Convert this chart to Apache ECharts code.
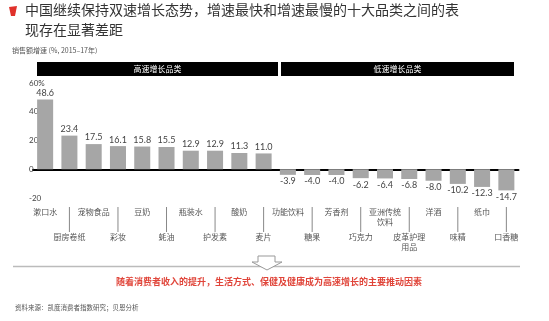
<!DOCTYPE html>
<html><head><meta charset="utf-8">
<script src="https://cdn.jsdelivr.net/npm/echarts@6/dist/echarts.min.js"></script>
<style>html,body{margin:0;padding:0;background:#fff}#c{width:549px;height:321px}</style>
</head><body><div id="c"></div>
<script>
var categories = ['漱口水','厨房卷纸','宠物食品','彩妆','豆奶','蚝油','瓶装水','护发素','酸奶','麦片',
  '功能饮料','糖果','芳香剂','巧克力','亚洲传统\n饮料','皮革护理\n用品','洋酒','味精','纸巾','口香糖'];
var growth = [48.6,23.4,17.5,16.1,15.8,15.5,12.9,12.9,11.3,11.0,
  -3.9,-4.0,-4.0,-6.2,-6.4,-6.8,-8.0,-10.2,-12.3,-14.7];
var yTicks = {min:-20, max:60, interval:20};
var groupTitles = ['高速增长品类','低速增长品类'];
var titleText = ['中国继续保持双速增长态势，增速最快和增速最慢的十大品类之间的表','现存在显著差距'];
var subtitleText = '销售额增速 (%, 2015–17年)';
var noteText = '随着消费者收入的提升，生活方式、保健及健康成为高速增长的主要推动因素';
var sourceText = '资料来源：凯度消费者指数研究；贝恩分析';

var FF = "Lato, 'Noto Sans CJK SC', sans-serif";
var CJK = "'Noto Sans CJK SC', sans-serif";
var chart = echarts.init(document.getElementById('c'));

var data = growth.map(function(v){
  return {value: v, label: {position: v >= 0 ? 'top' : 'bottom'}};
});

chart.setOption({
  animation: false,
  grid: {left: 33, right: 30.5, top: 83, bottom: 123},
  xAxis: {
    type: 'category', data: categories,
    axisLine: {onZero: true, lineStyle: {color: '#000', width: 2}},
    axisTick: {show: false},
    axisLabel: {
      interval: 0, margin: 9, color: '#555', fontFamily: CJK,
      formatter: function(name, idx){
        var lines = name.split('\n').map(function(s){return '{t|'+s+'}';}).join('\n');
        return idx % 2 === 1 ? '{b|}\n' + lines : lines;
      },
      rich: {
        t: {fontSize: 8, lineHeight: 10, color: '#555', fontFamily: CJK},
        b: {width: 1, height: 25, backgroundColor: '#888'}
      }
    }
  },
  yAxis: {
    type: 'value', min: yTicks.min, max: yTicks.max, interval: yTicks.interval,
    axisLine: {show: false}, axisTick: {show: false}, splitLine: {show: false},
    axisLabel: {
      align: 'left', margin: 4, fontSize: 8, color: '#444', fontFamily: FF,
      formatter: function(v){ return v === yTicks.max ? v + '%' : String(v); }
    }
  },
  series: [{
    type: 'bar', data: data, barCategoryGap: '34%',
    itemStyle: {color: '#a6a6a6'},
    label: {show: true, distance: 2, fontSize: 9, color: '#444', fontFamily: FF,
      formatter: function(p){ return p.value.toFixed(1); }}
  }],
  graphic: [
    {type: 'polygon', shape: {points: [[9,7],[17,6],[15,16],[11,16]]}, style: {fill: '#e0312b'}},
    {type: 'text', left: 25, top: 3, style: {text: titleText[0], font: '14px ' + CJK, fill: '#333'}},
    {type: 'text', left: 25, top: 23, style: {text: titleText[1], font: '14px ' + CJK, fill: '#333'}},
    {type: 'text', left: 12, top: 47, style: {text: subtitleText, font: '7px ' + CJK, fill: '#555'}},
    {type: 'rect', shape: {x: 37, y: 62, width: 241, height: 14}, style: {fill: '#000'}},
    {type: 'text', x: 157.5, y: 69, style: {text: groupTitles[0], font: '8px ' + CJK, fill: '#fff', align: 'center', verticalAlign: 'middle'}},
    {type: 'rect', shape: {x: 281, y: 62, width: 233, height: 14}, style: {fill: '#000'}},
    {type: 'text', x: 397.5, y: 69, style: {text: groupTitles[1], font: '8px ' + CJK, fill: '#fff', align: 'center', verticalAlign: 'middle'}},
    {type: 'line', shape: {x1: 13, y1: 266.5, x2: 520, y2: 266.5}, style: {stroke: '#bbb', lineWidth: 1.5}},
    {type: 'polygon', shape: {points: [[258,256],[275,256],[275,262],[282,262],[267,270],[252,262],[258,262]]},
      style: {fill: '#fff', stroke: '#999', lineWidth: 1}},
    {type: 'text', x: 269, y: 282, style: {text: noteText, font: 'bold 9px ' + CJK, fill: '#e0453a', align: 'center', verticalAlign: 'middle'}},
    {type: 'text', left: 15, top: 304, style: {text: sourceText, font: '6.5px ' + CJK, fill: '#555'}}
  ]
});
</script></body></html>
